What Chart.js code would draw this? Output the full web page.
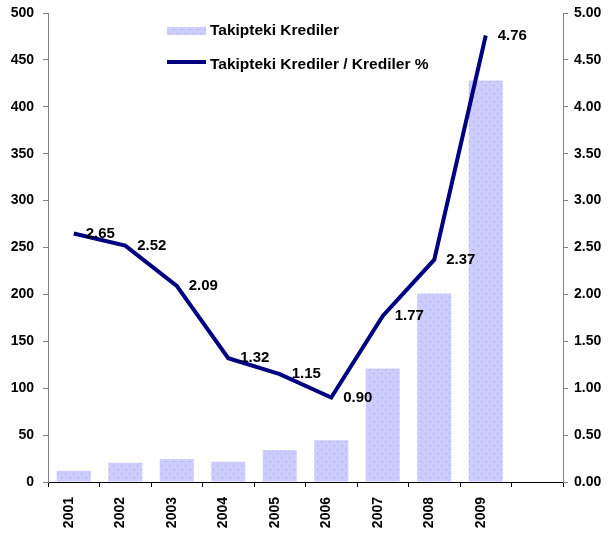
<!DOCTYPE html>
<html lang="tr">
<head>
  <meta charset="UTF-8">
  <title>Takipteki Krediler</title>
  <script src="https://cdn.jsdelivr.net/npm/chart.js@4.4.1/dist/chart.umd.min.js"></script>
  <style>
    body {
      margin: 0;
      padding: 0;
      background-color: #ffffff;
    }
    #wrap {
      width: 611px;
      height: 536px;
    }
  </style>
</head>
<body>
  <div id="wrap"><canvas id="chart" width="611" height="536"></canvas></div>

  <script>
    // Veriler
    const years = ['2001', '2002', '2003', '2004', '2005', '2006', '2007', '2008', '2009', ''];
    const npl = [12, 20.5, 24.5, 21.5, 34, 44.5, 121, 201, 428, null];
    const nplRatio = [2.65, 2.52, 2.09, 1.32, 1.15, 0.90, 1.77, 2.37, 4.76, null];
    const barLabel = 'Takipteki Krediler';
    const lineLabel = 'Takipteki Krediler / Krediler %';

    const FONT = "Arial, 'Liberation Sans', sans-serif";

    // Noktali desen (bar dolgusu)
    function dotPattern() {
      const c = document.createElement('canvas');
      c.width = 8;
      c.height = 8;
      const g = c.getContext('2d');
      g.fillStyle = '#ccccff';
      g.fillRect(0, 0, 8, 8);
      g.fillStyle = '#9c9cf4';
      g.fillRect(1, 1, 1, 1);
      g.fillRect(5, 5, 1, 1);
      return g.createPattern(c, 'repeat');
    }
    const pattern = dotPattern();

    // Çizgi üzerindeki değer etiketleri
    const valueLabels = {
      id: 'valueLabels',
      afterDatasetsDraw(chart) {
        const ctx = chart.ctx;
        const meta = chart.getDatasetMeta(1);
        ctx.save();
        ctx.font = 'bold 15px ' + FONT;
        ctx.fillStyle = '#000000';
        ctx.textBaseline = 'middle';
        ctx.textAlign = 'left';
        meta.data.forEach((pt, i) => {
          if (nplRatio[i] == null) return;
          ctx.fillText(nplRatio[i].toFixed(2), pt.x + 12, pt.y);
        });
        ctx.restore();
      }
    };

    // Gösterge (grafik içinde)
    const innerLegend = {
      id: 'innerLegend',
      afterDraw(chart) {
        const ctx = chart.ctx;
        ctx.save();
        ctx.fillStyle = pattern;
        ctx.fillRect(167, 27, 39, 8);
        ctx.strokeStyle = '#000080';
        ctx.lineWidth = 4;
        ctx.beginPath();
        ctx.moveTo(167, 62);
        ctx.lineTo(206, 62);
        ctx.stroke();
        ctx.font = 'bold 15.5px ' + FONT;
        ctx.fillStyle = '#000000';
        ctx.textBaseline = 'middle';
        ctx.fillText(barLabel, 210, 31);
        ctx.fillText(lineLabel, 210, 65);
        ctx.restore();
      }
    };

    const tickFont = { family: FONT, size: 14, weight: 'bold' };

    // eksen genisligi ve ust bosluk sabit
    function fixY(scale) {
      scale.width = 48;
      scale.paddingTop = 13;
    }

    new Chart(document.getElementById('chart').getContext('2d'), {
      type: 'bar',
      data: {
        labels: years,
        datasets: [{
          type: 'bar',
          label: barLabel,
          data: npl,
          backgroundColor: pattern,
          borderWidth: 0,
          barPercentage: 0.66,
          categoryPercentage: 1,
          yAxisID: 'y',
          order: 2
        }, {
          type: 'line',
          label: lineLabel,
          data: nplRatio,
          borderColor: '#000080',
          borderWidth: 4,
          pointRadius: 0,
          tension: 0,
          fill: false,
          yAxisID: 'y1',
          order: 1
        }]
      },
      options: {
        responsive: false,
        animation: false,
        layout: { padding: 0 },
        plugins: {
          legend: { display: false },
          tooltip: { enabled: false }
        },
        scales: {
          x: {
            offset: true,
            grid: {
              offset: true,
              drawOnChartArea: false,
              tickLength: 5,
              color: '#000000'
            },
            border: { color: '#000000', width: 1 },
            ticks: {
              font: tickFont,
              color: '#000000',
              minRotation: 90,
              maxRotation: 90,
              padding: 10,
              labelOffset: -5,
              autoSkip: false
            },
            afterFit(scale) { scale.height = 54; }
          },
          y: {
            position: 'left',
            min: 0,
            max: 500,
            grid: { drawOnChartArea: false, tickLength: 5, color: '#808080' },
            border: { color: '#808080', width: 1 },
            ticks: { stepSize: 50, font: tickFont, color: '#000000', padding: 9 },
            afterFit: fixY
          },
          y1: {
            position: 'right',
            min: 0,
            max: 5,
            grid: { drawOnChartArea: false, tickLength: 5, color: '#808080' },
            border: { color: '#808080', width: 1 },
            ticks: {
              stepSize: 0.5,
              font: tickFont,
              color: '#000000',
              padding: 6,
              callback: v => v.toFixed(2)
            },
            afterFit: fixY
          }
        }
      },
      plugins: [valueLabels, innerLegend]
    });
  </script>
</body>
</html>
